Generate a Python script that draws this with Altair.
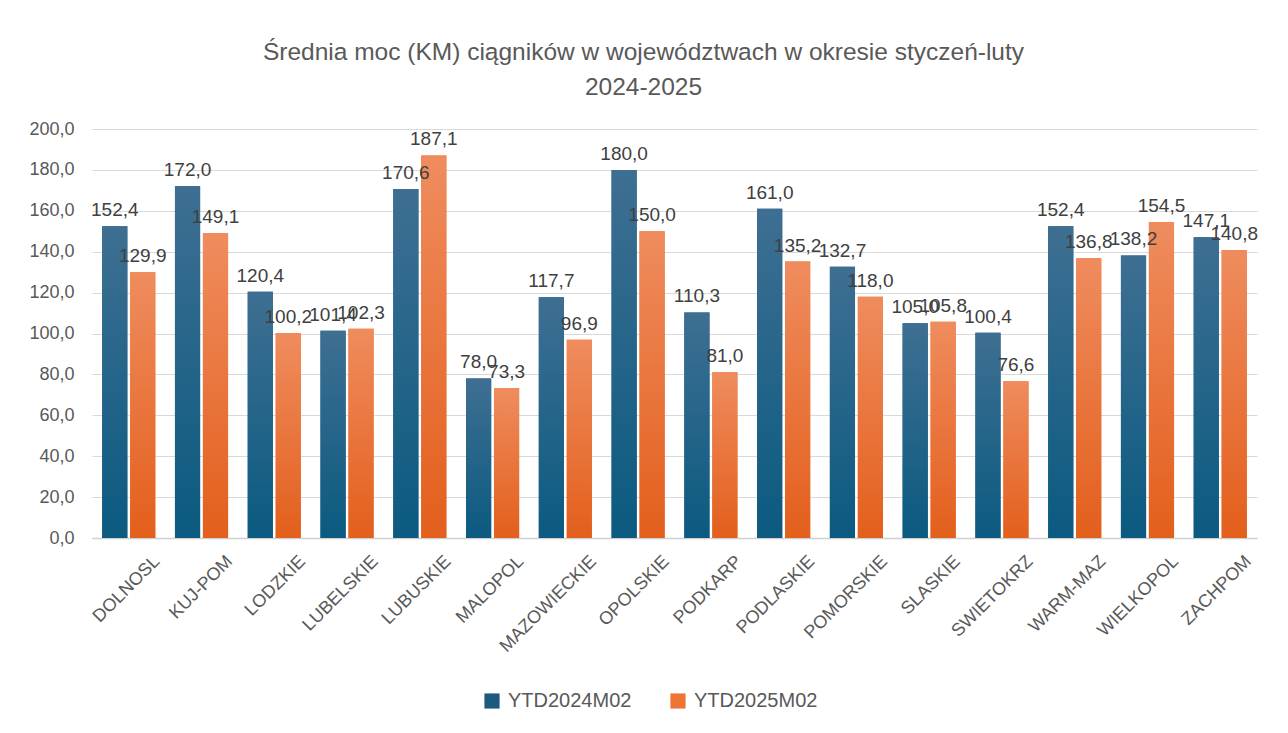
import altair as alt
import pandas as pd

categories = ["DOLNOSL", "KUJ-POM", "LODZKIE", "LUBELSKIE", "LUBUSKIE", "MALOPOL",
              "MAZOWIECKIE", "OPOLSKIE", "PODKARP", "PODLASKIE", "POMORSKIE", "SLASKIE",
              "SWIETOKRZ", "WARM-MAZ", "WIELKOPOL", "ZACHPOM"]
ytd2024 = [152.4, 172.0, 120.4, 101.4, 170.6, 78.0, 117.7, 180.0, 110.3, 161.0, 132.7,
           105.0, 100.4, 152.4, 138.2, 147.1]
ytd2025 = [129.9, 149.1, 100.2, 102.3, 187.1, 73.3, 96.9, 150.0, 81.0, 135.2, 118.0,
           105.8, 76.6, 136.8, 154.5, 140.8]
series = ["YTD2024M02", "YTD2025M02"]

rows = []
for c, a, b in zip(categories, ytd2024, ytd2025):
    rows.append({"woj": c, "seria": series[0], "wartosc": a})
    rows.append({"woj": c, "seria": series[1], "wartosc": b})
df = pd.DataFrame(rows)

font = "Liberation Sans"
grey = "#595959"

x = alt.X("woj:N", sort=categories, title=None,
          scale=alt.Scale(paddingInner=0.27, paddingOuter=0.14),
          axis=alt.Axis(labelAngle=-45, labelFontSize=18, labelColor=grey, labelFont=font,
                        ticks=False, domainColor="#d0d0d0", domainWidth=1.5,
                        labelPadding=14, labelOffset=22))
xo = alt.XOffset("seria:N", sort=series, scale=alt.Scale(domain=series, paddingInner=0.1))
y = alt.Y("wartosc:Q", title=None,
          scale=alt.Scale(domain=[0, 200]),
          axis=alt.Axis(values=list(range(0, 201, 20)),
                        labelExpr="replace(format(datum.value, '.1f'), '.', ',')",
                        labelFontSize=18, labelColor=grey, labelFont=font,
                        domain=False, ticks=False, labelPadding=18,
                        gridColor="#d9d9d9", gridWidth=1))

base = alt.Chart(df)

legend_bars = base.mark_bar().encode(
    x=x, xOffset=xo, y=y,
    color=alt.Color("seria:N", sort=series, title=None,
                    scale=alt.Scale(domain=series, range=["#1b5b80", "#ef7434"]),
                    legend=alt.Legend(orient="none", direction="horizontal",
                                      legendX=390, legendY=562,
                                      labelFontSize=20, labelColor=grey, labelFont=font,
                                      symbolType="square", symbolSize=230,
                                      columnPadding=36, labelOffset=6))
)

blue_grad = alt.Gradient(gradient="linear", x1=0, y1=0, x2=0, y2=1,
                         stops=[alt.GradientStop(color="#3e6f92", offset=0),
                                alt.GradientStop(color="#0b5a80", offset=1)])
orange_grad = alt.Gradient(gradient="linear", x1=0, y1=0, x2=0, y2=1,
                           stops=[alt.GradientStop(color="#ef8c5e", offset=0),
                                  alt.GradientStop(color="#e35f1c", offset=1)])

bars_a = base.transform_filter(alt.datum.seria == series[0]).mark_bar(
    color=blue_grad).encode(x=x, xOffset=xo, y=y)
bars_b = base.transform_filter(alt.datum.seria == series[1]).mark_bar(
    color=orange_grad).encode(x=x, xOffset=xo, y=y)

labels = base.transform_calculate(
    etykieta="replace(format(datum.wartosc, '.1f'), '.', ',')"
).mark_text(baseline="bottom", dy=-6, fontSize=19, font=font, color="#404040").encode(
    x=x, xOffset=xo, y=y, text="etykieta:N")

chart = alt.layer(legend_bars, bars_a, bars_b, labels).properties(
    width=1165, height=409,
    title=alt.TitleParams(
        text=["Średnia moc (KM) ciągników w województwach w okresie styczeń-luty", "2024-2025"],
        fontSize=24.5, font=font, fontWeight="normal", color=grey, anchor="middle",
        frame="bounds", lineHeight=35, offset=20),
    padding={"left": 20, "top": 31, "right": 20, "bottom": 10}
).configure(background="white", view=alt.ViewConfig(stroke=None))

chart.save("out.html", embed_options={"renderer": "svg", "actions": False})
